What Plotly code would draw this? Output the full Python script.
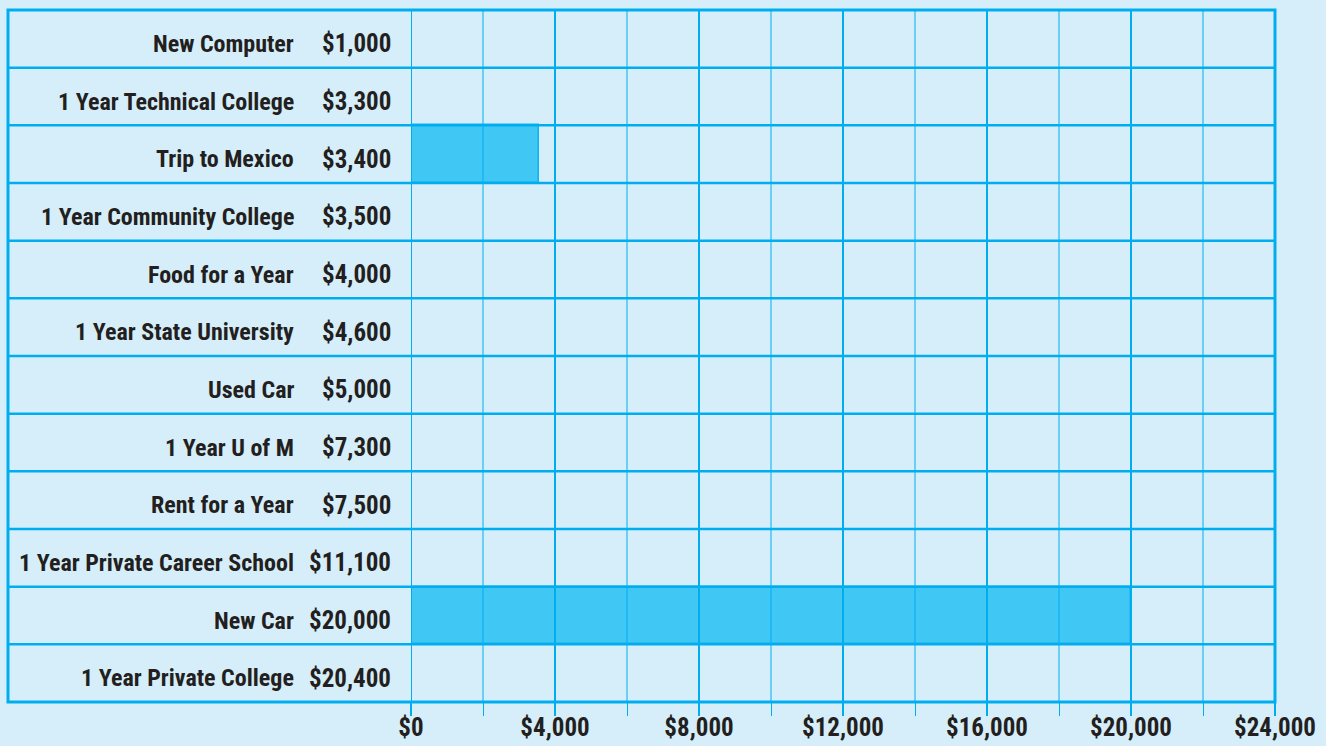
import plotly.graph_objects as go

# ---- data ----
categories = [
    "New Computer", "1 Year Technical College", "Trip to Mexico",
    "1 Year Community College", "Food for a Year", "1 Year State University",
    "Used Car", "1 Year U of M", "Rent for a Year",
    "1 Year Private Career School", "New Car", "1 Year Private College",
]
cost_labels = [
    "$1,000", "$3,300", "$3,400", "$3,500", "$4,000", "$4,600",
    "$5,000", "$7,300", "$7,500", "$11,100", "$20,000", "$20,400",
]
filled_amounts = [None, None, 3560, None, None, None, None, None, None, None, 20000, None]
tick_values = [0, 4000, 8000, 12000, 16000, 20000, 24000]
tick_text = ["$0", "$4,000", "$8,000", "$12,000", "$16,000", "$20,000", "$24,000"]
minor_values = [2000, 6000, 10000, 14000, 18000, 22000]

# ---- layout constants ----
W, H = 1326, 746
TABLE_L, PLOT_L, PLOT_R, PLOT_T, PLOT_B = 8, 411, 1275, 10, 702
NAME_R, COST_R = 296, 393
BG = "#d6eefa"
LINE = "#00aeef"
BAR = "#41c7f4"
TEXT = "#231f20"
FONT = "Roboto Condensed, Liberation Sans Narrow, DejaVu Sans Condensed, sans-serif"
FS_NAME = 24
FS_NUM = 25


def px(x):
    return x / W


def py(y):
    return 1 - y / H


rows = list(range(len(categories)))

fig = go.Figure(
    go.Bar(
        x=filled_amounts,
        y=rows,
        orientation="h",
        width=1,
        marker=dict(color=BAR, line=dict(color="#12b2ee", width=1.5)),
        hoverinfo="skip",
    )
)

shapes = []
for v in minor_values:
    shapes.append(dict(type="line", xref="x", yref="paper", x0=v, x1=v,
                       y0=py(PLOT_B), y1=py(PLOT_T), layer="above",
                       line=dict(color=LINE, width=1)))
for v in tick_values:
    shapes.append(dict(type="line", xref="x", yref="paper", x0=v, x1=v,
                       y0=py(PLOT_B), y1=py(PLOT_T), layer="above",
                       line=dict(color=LINE, width=2)))
for i in rows[1:]:
    shapes.append(dict(type="line", xref="paper", yref="y", x0=px(TABLE_L), x1=px(PLOT_R),
                       y0=i - 0.5, y1=i - 0.5, layer="above",
                       line=dict(color=LINE, width=2.5)))
shapes.append(dict(type="rect", xref="paper", yref="paper", x0=px(TABLE_L), x1=px(PLOT_R),
                   y0=py(PLOT_B), y1=py(PLOT_T), layer="above",
                   line=dict(color=LINE, width=3)))

annotations = []
for i, (name, cost) in enumerate(zip(categories, cost_labels)):
    annotations.append(dict(x=px(NAME_R), xref="paper", y=i, yref="y", text=name,
                            xanchor="right", yanchor="middle", showarrow=False, yshift=-5,
                            font=dict(family=FONT, size=FS_NAME, color=TEXT, weight=700)))
    annotations.append(dict(x=px(COST_R), xref="paper", y=i, yref="y", text=cost,
                            xanchor="right", yanchor="middle", showarrow=False, yshift=-5,
                            font=dict(family=FONT, size=FS_NUM, color=TEXT, weight=700)))

fig.update_layout(
    width=W, height=H,
    autosize=False,
    margin=dict(l=0, r=0, t=0, b=0, pad=0),
    paper_bgcolor=BG, plot_bgcolor=BG,
    showlegend=False,
    bargap=0,
    xaxis=dict(
        domain=[px(PLOT_L), px(PLOT_R)],
        range=[0, 24000],
        automargin=False,
        showgrid=False, zeroline=False, showline=False,
        tickvals=tick_values, ticktext=tick_text,
        ticks="outside", ticklen=13, tickwidth=2, tickcolor=LINE,
        ticklabelstandoff=-10,
        minor=dict(tickvals=minor_values, ticks="outside", ticklen=13,
                   tickwidth=1, tickcolor=LINE),
        tickfont=dict(family=FONT, size=FS_NUM, color=TEXT, weight=700),
        fixedrange=True,
    ),
    yaxis=dict(
        domain=[py(PLOT_B), py(PLOT_T)],
        range=[len(categories) - 0.5, -0.5],
        automargin=False,
        showgrid=False, zeroline=False, showline=False,
        showticklabels=False, ticks="",
        fixedrange=True,
    ),
    shapes=shapes,
    annotations=annotations,
)

fig.write_html(
    "out.html",
    config={"displayModeBar": False},
    post_script="document.body.style.margin='0';document.body.style.overflow='hidden';",
)
